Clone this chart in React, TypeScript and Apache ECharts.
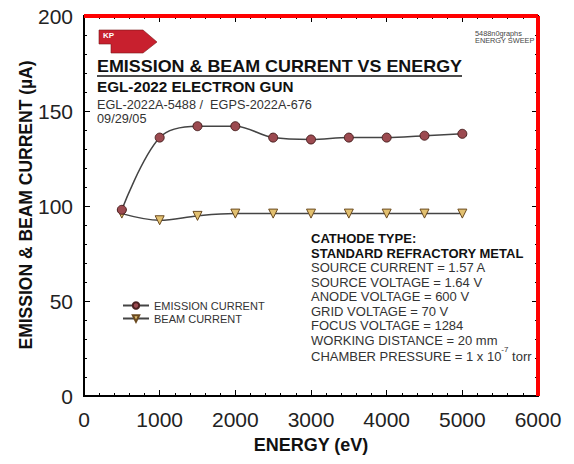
import React, { useEffect, useRef } from "react";
import * as echarts from "echarts";

const energy = [500, 1000, 1500, 2000, 2500, 3000, 3500, 4000, 4500, 5000];
const emissionCurrent = [98, 136, 142, 142, 136, 135, 136, 136, 137, 138];
const beamCurrent = [96, 92.5, 94.8, 96, 96, 96, 96, 96, 96, 96];

const titleText = "EMISSION & BEAM CURRENT VS ENERGY";
const subTitle = "EGL-2022 ELECTRON GUN";
const modelLine = "EGL-2022A-5488 /  EGPS-2022A-676";
const dateLine = "09/29/05";
const noteLines = [
  "SOURCE CURRENT = 1.57 A",
  "SOURCE VOLTAGE = 1.64 V",
  "ANODE VOLTAGE = 600 V",
  "GRID VOLTAGE = 70 V",
  "FOCUS VOLTAGE = 1284",
  "WORKING DISTANCE = 20 mm",
];

const FONT = "Liberation Sans, Arial, sans-serif";

export default function App() {
  const ref = useRef<HTMLDivElement>(null);
  useEffect(() => {
    if (!ref.current) return;
    const chart = echarts.init(ref.current, null, { renderer: "svg" });
    const axisCommon = {
      axisLine: { show: true, onZero: false, lineStyle: { color: "#000", width: 2 } },
      axisTick: { show: true, inside: true, length: 6, lineStyle: { color: "#000", width: 1 } },
      minorTick: { show: true, splitNumber: 5, length: 3, lineStyle: { color: "#000", width: 1 } },
      splitLine: { show: false },
    };
    const L = 84, R = 538, T = 16, B = 396;
    const noteStep = 14.5;
    const noteTop = 232;
    const graphics: any[] = [
      { type: "line", z: 100, shape: { x1: L, y1: T, x2: R, y2: T }, style: { stroke: "red", lineWidth: 4 } },
      { type: "line", z: 100, shape: { x1: R, y1: T, x2: R, y2: B }, style: { stroke: "red", lineWidth: 4 } },
      {
        type: "polygon",
        shape: { points: [[99, 30], [143, 30], [157, 42], [143, 53], [111, 53], [111, 44], [99, 44]] },
        style: { fill: "#c8202e", stroke: "#7a1a1a", lineWidth: 0.6 },
      },
      { type: "text", x: 103, y: 31, style: { text: "KP", fill: "#fff", font: `bold 8px ${FONT}` } },
      { type: "text", x: 475, y: 31, scaleX: 1.05, style: { text: "5488n0graphs", fill: "#444", font: `7px ${FONT}` } },
      { type: "text", x: 475, y: 38, scaleX: 1.05, style: { text: "ENERGY SWEEP", fill: "#444", font: `7px ${FONT}` } },
      { type: "text", x: 97, y: 59, scaleX: 1.12, style: { text: titleText, fill: "#111", font: `bold 16px ${FONT}` } },
      { type: "line", shape: { x1: 97, y1: 76, x2: 462, y2: 76 }, style: { stroke: "#111", lineWidth: 1.5 } },
      { type: "text", x: 97, y: 80, scaleX: 1.09, style: { text: subTitle, fill: "#111", font: `bold 14px ${FONT}` } },
      { type: "text", x: 97, y: 99, scaleX: 1.06, style: { text: modelLine, fill: "#333", font: `12px ${FONT}` } },
      { type: "text", x: 97, y: 113, scaleX: 1.06, style: { text: dateLine, fill: "#333", font: `12px ${FONT}` } },
      { type: "text", x: 311, y: noteTop, style: { text: "CATHODE TYPE:", fill: "#111", font: `bold 13px ${FONT}` } },
      { type: "text", x: 311, y: noteTop + noteStep, style: { text: "STANDARD REFRACTORY METAL", fill: "#111", font: `bold 13px ${FONT}` } },
      ...noteLines.map((t, i) => ({
        type: "text",
        x: 311,
        y: noteTop + noteStep * (i + 2),
        style: { text: t, fill: "#333", font: `13px ${FONT}` },
      })),
      {
        type: "text",
        x: 311,
        y: noteTop + noteStep * 8 - 3,
        style: {
          text: "{n|CHAMBER PRESSURE = 1 x 10}{s|-7}{n| torr}",
          rich: {
            n: { fill: "#333", fontSize: 13, fontFamily: FONT, verticalAlign: "bottom", lineHeight: 18 },
            s: { fill: "#333", fontSize: 8, fontFamily: FONT, verticalAlign: "top", lineHeight: 18 },
          },
        },
      },
      {
        type: "text",
        x: 26,
        y: 205,
        rotation: Math.PI / 2,
        style: {
          text: "EMISSION & BEAM CURRENT (\u00b5A)",
          fill: "#111",
          font: `bold 17.5px ${FONT}`,
          align: "center",
          verticalAlign: "middle",
        },
      },
      {
        type: "text",
        x: 311,
        y: 445,
        style: {
          text: "ENERGY (eV)",
          fill: "#111",
          font: `bold 18px ${FONT}`,
          align: "center",
          verticalAlign: "middle",
        },
      },
    ];
    chart.setOption({
      animation: false,
      backgroundColor: "#fff",
      textStyle: { fontFamily: FONT },
      grid: { left: L, right: 574 - R, top: T, bottom: 464 - B, show: true, borderColor: "#000", borderWidth: 2, backgroundColor: "transparent" },
      legend: {
        orient: "vertical",
        left: 117,
        top: 295,
        itemWidth: 26,
        itemHeight: 8,
        itemGap: 2,
        textStyle: { fontSize: 11, color: "#333", fontFamily: FONT },
        data: ["EMISSION CURRENT", "BEAM CURRENT"],
      },
      xAxis: [
        {
          type: "value",
          min: 0,
          max: 6000,
          interval: 1000,
          ...axisCommon,
          axisLabel: { fontSize: 21, color: "#222", margin: 13, fontFamily: FONT, formatter: (v: number) => String(v) },
        },
        {
          type: "value",
          position: "top",
          min: 0,
          max: 6000,
          interval: 1000,
          ...axisCommon,
          axisLabel: { show: true, formatter: () => "" },
        },
      ],
      yAxis: [
        {
          type: "value",
          min: 0,
          max: 200,
          interval: 50,
          ...axisCommon,
          axisLabel: { fontSize: 21, color: "#222", margin: 11, fontFamily: FONT, formatter: (v: number) => String(v) },
        },
        {
          type: "value",
          position: "right",
          min: 0,
          max: 200,
          interval: 50,
          ...axisCommon,
          axisLabel: { show: true, formatter: () => "" },
        },
      ],
      series: [
        {
          name: "EMISSION CURRENT",
          type: "line",
          smooth: 0.35,
          xAxisIndex: 0,
          yAxisIndex: 0,
          data: energy.map((e, i) => [e, emissionCurrent[i]]),
          symbol: "circle",
          symbolSize: 9,
          lineStyle: { color: "#444", width: 1.5 },
          itemStyle: { color: "#9c4a50", borderColor: "#4a2020", borderWidth: 1 },
          z: 3,
        },
        {
          name: "BEAM CURRENT",
          type: "line",
          smooth: 0.35,
          xAxisIndex: 1,
          yAxisIndex: 1,
          data: energy.map((e, i) => [e, beamCurrent[i]]),
          symbol: "triangle",
          symbolRotate: 180,
          symbolSize: 9,
          lineStyle: { color: "#444", width: 1.5 },
          itemStyle: { color: "#e2c070", borderColor: "#6a4a20", borderWidth: 1 },
          z: 2,
        },
      ],
      graphic: graphics,
    });
    return () => chart.dispose();
  }, []);
  return <div ref={ref} style={{ width: 574, height: 464, position: "absolute", left: 0, top: 0 }} />;
}
